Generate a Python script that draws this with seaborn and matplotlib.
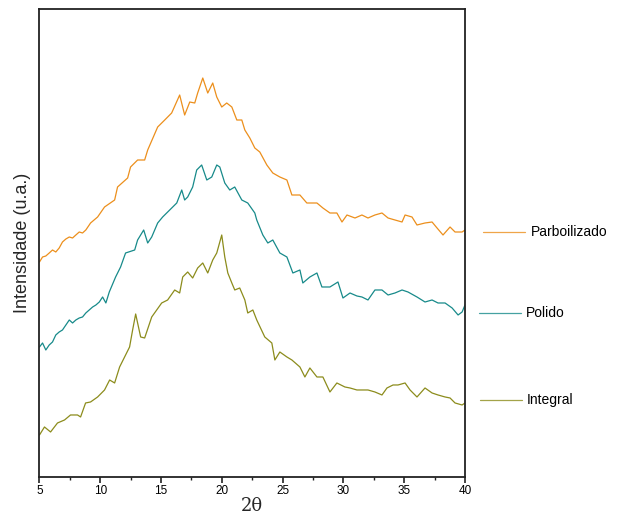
import matplotlib
matplotlib.use("Agg")
import matplotlib.pyplot as plt
import seaborn as sns
import pandas as pd
from matplotlib.lines import Line2D

# ---- data (2theta in degrees, intensity in arbitrary units, offsets included)
parb_x = [5.00, 5.25, 5.52, 5.80, 6.07, 6.34, 6.62, 6.89, 7.17, 7.45, 7.72, 7.99, 8.27, 8.54, 8.81,
          9.09, 9.20, 9.78, 10.35, 11.18, 11.42, 12.25, 12.49, 13.07, 13.65, 13.90,
          14.72, 15.30, 15.87, 16.53, 16.94, 17.36, 17.77, 18.01, 18.43, 18.84, 19.25, 19.58, 19.99,
          20.40, 20.82, 21.23, 21.64, 21.89, 22.30, 22.71, 23.12, 23.70, 24.19, 24.77, 25.35, 25.76,
          26.42, 26.99, 27.82, 28.31, 28.89, 29.46, 29.88, 30.29, 30.95, 31.52, 32.02, 32.59, 33.17,
          33.67, 34.24, 34.82, 35.07, 35.64, 36.05, 36.71, 37.29, 37.70, 38.19, 38.77, 39.18, 39.76, 40.0]
parb_y = [215, 220, 221, 224, 227, 225, 229, 235, 238, 240, 239, 242, 245, 244, 247,
          252, 254, 260, 270, 277, 290, 299, 310, 317, 317, 327,
          350, 357, 364, 382, 362, 375, 374, 384, 399, 384, 394, 380, 370,
          374, 370, 357, 357, 347, 339, 329, 325, 312, 304, 300, 297, 282,
          282, 274, 274, 269, 264, 264, 255, 262, 259, 262, 259, 262, 264,
          259, 257, 255, 262, 260, 252, 254, 255, 249, 242, 250, 245, 245, 247]

pol_x = [5.00, 5.25, 5.52, 5.80, 6.07, 6.34, 6.62, 6.89, 7.17, 7.45, 7.72, 7.99, 8.27, 8.54, 8.81,
         9.09, 9.37, 9.64, 9.92, 10.19, 10.46, 10.74,
         11.26, 11.67, 12.08, 12.83, 13.07, 13.57, 13.90, 14.23, 14.72, 15.13, 15.71, 16.29, 16.70,
         16.94, 17.19, 17.60, 17.93, 18.34, 18.76, 19.17, 19.58, 19.83, 20.24, 20.65, 21.06, 21.64,
         22.13, 22.71, 22.87, 23.37, 23.78, 24.19, 24.77, 25.35, 25.84, 26.42, 26.66, 27.24, 27.82,
         28.23, 28.89, 29.55, 29.96, 30.54, 31.11, 31.52, 32.02, 32.59, 33.17, 33.67, 34.24, 34.82,
         35.31, 36.05, 36.71, 37.29, 37.78, 38.36, 38.94, 39.43, 39.76, 40.0]
pol_y = [130, 134, 127, 132, 135, 142, 145, 147, 152, 157, 154, 157, 159, 160, 164,
         167, 170, 172, 175, 180, 174, 185,
         200, 210, 224, 227, 237, 247, 234, 240, 254, 260, 267, 274, 287,
         277, 280, 290, 307, 312, 297, 300, 312, 310, 294, 287, 290, 277,
         274, 264, 257, 242, 234, 237, 224, 220, 204, 207, 194, 200, 204,
         190, 190, 195, 179, 184, 181, 180, 177, 187, 187, 182, 184, 187,
         185, 180, 175, 177, 174, 174, 169, 162, 165, 172]

int_x = [5.00, 5.41, 5.91, 6.48, 7.06, 7.55, 8.13, 8.38, 8.79, 9.20, 9.78, 10.35, 10.77, 11.18,
         11.59, 12.00, 12.41, 12.66, 12.91, 13.32, 13.65, 14.23, 14.64, 15.05, 15.54, 16.12, 16.53,
         16.78, 17.19, 17.60, 18.01, 18.43, 18.84, 19.25, 19.58, 19.99, 20.24, 20.49, 20.82, 21.06,
         21.47, 21.89, 22.13, 22.55, 22.87, 23.53, 24.11, 24.36, 24.77, 25.35, 25.76, 26.42, 26.83,
         27.24, 27.82, 28.31, 28.89, 29.46, 30.12, 30.54, 31.11, 31.52, 32.02, 32.59, 33.17, 33.58,
         34.08, 34.49, 35.07, 35.48, 36.05, 36.71, 37.29, 37.78, 38.36, 38.77, 39.18, 39.76, 40.0]
int_y = [42, 50, 45, 54, 57, 62, 62, 60, 74, 75, 80, 87, 97, 94,
         110, 120, 130, 147, 163, 140, 139, 160, 167, 174, 177, 187, 184,
         200, 205, 199, 209, 214, 204, 217, 224, 242, 220, 204, 194, 187,
         189, 177, 164, 167, 157, 140, 134, 117, 125, 120, 117, 110, 100,
         109, 100, 100, 85, 94, 90, 89, 87, 87, 87, 85, 82, 89,
         92, 92, 94, 87, 80, 89, 84, 82, 80, 79, 74, 72, 74]

names = ["Parboilizado", "Polido", "Integral"]
colors = {"Parboilizado": "#EC8F1C", "Polido": "#178A8A", "Integral": "#8C8C1C"}
xticks = [5, 10, 15, 20, 25, 30, 35, 40]

df = pd.concat([
    pd.DataFrame({"x": parb_x, "y": parb_y, "s": "Parboilizado"}),
    pd.DataFrame({"x": pol_x, "y": pol_y, "s": "Polido"}),
    pd.DataFrame({"x": int_x, "y": int_y, "s": "Integral"}),
], ignore_index=True)

sns.set_theme(style="ticks")
plt.rcParams["font.family"] = ["Liberation Sans", "DejaVu Sans"]

fig = plt.figure(figsize=(6.35, 5.18), dpi=100)
ax = fig.add_axes([0.0622, 0.0792, 0.6701, 0.9034])

sns.lineplot(data=df, x="x", y="y", hue="s", hue_order=names, palette=colors,
             estimator=None, sort=False, linewidth=0.9, legend=False, ax=ax)

ax.set_xlim(5, 40)
ax.set_ylim(0, 468)
ax.set_xticks(xticks)
ax.set_xticklabels([str(t) for t in xticks], fontsize=8.5)
ax.set_xticks([7.5, 12.5, 17.5, 22.5, 27.5, 32.5, 37.5], minor=True)
ax.set_yticks([])
ax.tick_params(axis="x", which="major", direction="out", length=4, width=1.2, pad=2, colors="#222222")
ax.tick_params(axis="x", which="minor", direction="out", length=2.5, width=1.0, colors="#222222")
ax.tick_params(axis="x", labelcolor="black")
for sp in ax.spines.values():
    sp.set_visible(True)
    sp.set_linewidth(1.3)
    sp.set_color("#222222")

ax.set_xlabel("2θ", fontsize=13, labelpad=0, family=["DejaVu Serif"])
ax.set_ylabel("Intensidade (u.a.)", fontsize=13, labelpad=6)

# legend entries placed to the right of the axes, as in the reference
leg = [("Parboilizado", 1.042, 1.141, 1.155, 0.5235),
       ("Polido", 1.033, 1.132, 1.143, 0.350),
       ("Integral", 1.035, 1.134, 1.146, 0.1645)]
for name, x0, x1, xt, yy in leg:
    ax.add_line(Line2D([x0, x1], [yy, yy], transform=ax.transAxes, color=colors[name],
                       linewidth=0.9, alpha=0.8, clip_on=False))
    ax.text(xt, yy, name, transform=ax.transAxes, fontsize=10, va="center", ha="left",
            color="black")

fig.savefig("out.png", dpi=100)
